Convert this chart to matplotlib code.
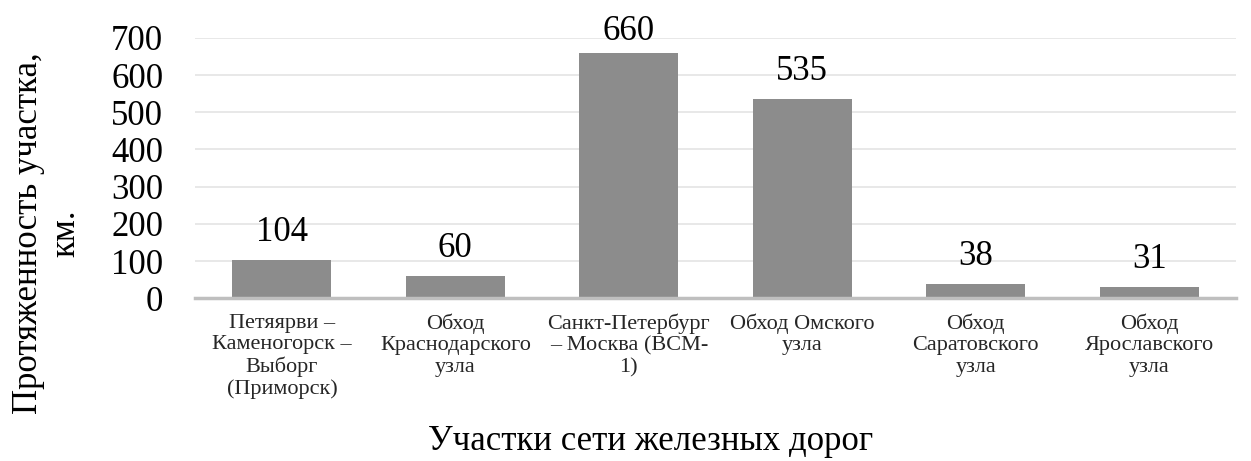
import matplotlib.pyplot as plt
import numpy as np

plt.rcParams['font.family'] = ['Liberation Serif', 'DejaVu Serif']

categories = [
    "Петяярви –\nКаменогорск –\nВыборг\n(Приморск)",
    "Обход\nКраснодарского\nузла",
    "Санкт-Петербург\n– Москва (ВСМ-\n1)",
    "Обход Омского\nузла",
    "Обход\nСаратовского\nузла",
    "Обход\nЯрославского\nузла",
]
lengths = [104, 60, 660, 535, 38, 31]
yticks = [0, 100, 200, 300, 400, 500, 600, 700]

fig = plt.figure(figsize=(12.51, 4.61), dpi=100)
ax = fig.add_axes([0.156, 0.353, 0.832, 0.565])

x = np.arange(len(categories))
bars = ax.bar(x, lengths, width=0.57, color="#8c8c8c", zorder=3)

# labels sit above bars, clamped near the top like Excel does
for bar, v in zip(bars, lengths):
    ax.text(bar.get_x() + bar.get_width() / 2, min(v + 51, 695), str(v),
            ha="center", va="baseline", fontsize=25, color="black", zorder=4)

ax.set_xlim(-0.5, len(categories) - 0.5)
ax.set_ylim(0, 700)
ax.set_yticks(yticks)
ax.set_yticklabels([str(t) for t in yticks], fontsize=25)
ax.set_xticks(x)
ax.set_xticklabels(categories, fontsize=16, color="#262626", linespacing=1.16)
ax.tick_params(axis="both", length=0)
ax.tick_params(axis="y", pad=23)
ax.tick_params(axis="x", pad=11)

ax.grid(True, axis="y", color="#e6e6e6", linewidth=1.3, zorder=0)
for s in ["top", "right", "left"]:
    ax.spines[s].set_visible(False)
ax.spines["bottom"].set_color("#bfbfbf")
ax.spines["bottom"].set_linewidth(2.5)
ax.spines["bottom"].set_zorder(5)

ax.set_ylabel("Протяженность участка,\nкм.", fontsize=25, linespacing=1.18)
ax.yaxis.set_label_coords(-0.108, 0.25)
ax.set_xlabel("Участки сети железных дорог", fontsize=25)
ax.xaxis.set_label_coords(0.438, -0.485)

fig.savefig("out.png", dpi=100)
